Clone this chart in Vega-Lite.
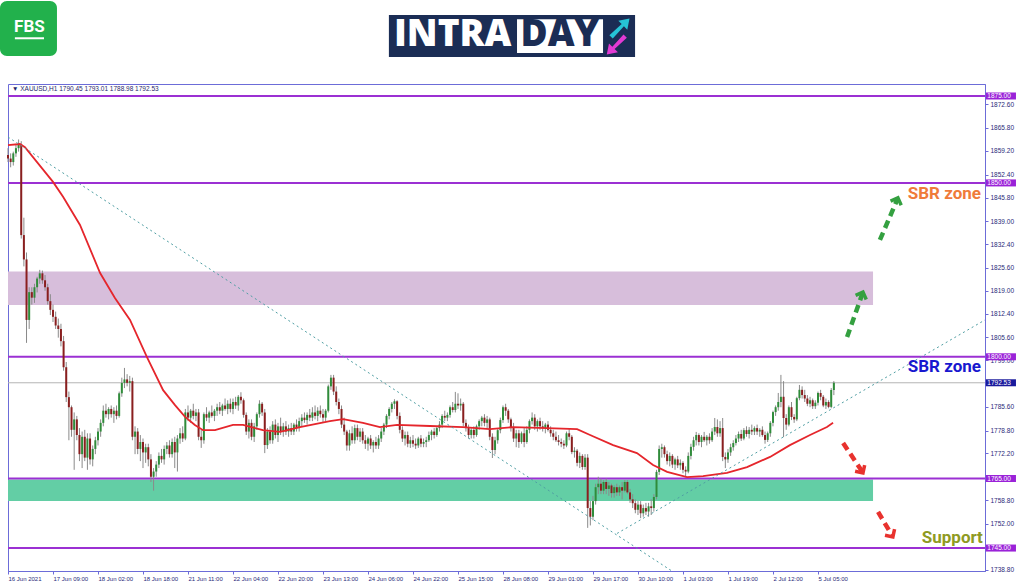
{
"$schema":"https://vega.github.io/schema/vega-lite/v6.json",
"width":977,"height":487,
"autosize":{"type":"none"},
"padding":{"left":8,"top":84,"right":39,"bottom":16},
"background":"white",
"config":{"view":{"stroke":"#6c6cd8","strokeWidth":1},"axis":{"grid":false}},
"resolve":{"axis":{"x":"independent","y":"independent"}},
"datasets":{
"zones":[{"z":"purple","x1":0,"x2":326.8,"p1":1814.9,"p2":1824.5},{"z":"green","x1":0,"x2":326.8,"p1":1758.5,"p2":1764.7}],
"levels":[{"p":1875},{"p":1850},{"p":1800},{"p":1765},{"p":1745}],
"current":[{"p":1792.53}],
"trend":[{"id":"a","i":0,"p":1863.2},{"id":"a","i":250.8,"p":1738.4},{"id":"b","i":230.1,"p":1749.2},{"id":"b","i":369.1,"p":1810.6}],
"ema":[{"i":0,"p":1860.9},{"i":4.5,"p":1861.2},{"i":6.4,"p":1860.3},{"i":17,"p":1850.3},{"i":20.8,"p":1846},{"i":27.2,"p":1837.9},{"i":34.8,"p":1824.1},{"i":40.4,"p":1816.9},{"i":46.1,"p":1810.6},{"i":52.5,"p":1799.9},{"i":58.6,"p":1790.4},{"i":63.1,"p":1786.1},{"i":66.9,"p":1782.7},{"i":70.6,"p":1780.4},{"i":73.7,"p":1778.9},{"i":78.2,"p":1778.9},{"i":85,"p":1780.4},{"i":88.8,"p":1780.4},{"i":96.3,"p":1778.9},{"i":102.8,"p":1778.4},{"i":110.3,"p":1779.8},{"i":121.6,"p":1781.5},{"i":126.6,"p":1782.1},{"i":134.1,"p":1781},{"i":140.5,"p":1779.8},{"i":147,"p":1780.4},{"i":159.4,"p":1780.1},{"i":171.9,"p":1779.8},{"i":182.1,"p":1779.2},{"i":190.8,"p":1779.8},{"i":203.6,"p":1779.5},{"i":215,"p":1779.2},{"i":219.9,"p":1777.5},{"i":228.6,"p":1774.6},{"i":237.6,"p":1772.3},{"i":243.7,"p":1768.9},{"i":249,"p":1766.9},{"i":256.5,"p":1765.4},{"i":262.6,"p":1765.7},{"i":271.6,"p":1766.6},{"i":279.2,"p":1768.3},{"i":287.9,"p":1771.2},{"i":295.4,"p":1774.6},{"i":303,"p":1777.5},{"i":309.4,"p":1779.8},{"i":311.7,"p":1781}],
"garrow":[{"id":"g1","i":317,"p":1805.7},{"id":"g1","i":322.8,"p":1818.2},{"id":"g2","i":329.4,"p":1833.6},{"id":"g2","i":336,"p":1845.3}],
"rarrow":[{"id":"r1","i":315.5,"p":1775.2},{"id":"r1","i":322.8,"p":1766.9},{"id":"r2","i":328.7,"p":1755.4},{"id":"r2","i":334,"p":1748.6}],
"ghead":[{"i":323,"p":1818.6},{"i":336.2,"p":1845.7}],
"rhead":[{"i":323,"p":1766.6},{"i":334.3,"p":1748.2}],
"notes":[{"t":"SBR zone","k":"o","i":367.6,"p":1846.8},{"t":"SBR zone","k":"b","i":367.6,"p":1797.1},{"t":"Support","k":"s","i":368.3,"p":1747.9}],
"boxes":[{"p":1875,"t":"1875.00","k":"lvl"},{"p":1850,"t":"1850.00","k":"lvl"},{"p":1800,"t":"1800.00","k":"lvl"},{"p":1765,"t":"1765.00","k":"lvl"},{"p":1745,"t":"1745.00","k":"lvl"},{"p":1792.53,"t":"1792.53","k":"cur"}],
"header":[{"t":"▼  XAUUSD,H1  1790.45 1793.01 1788.98 1792.53"}],
"fbs":[{"t":"FBS"}],
"intra":[{"t":"INTRA"}],
"day":[{"t":"DAY"}],
"candles":[
{"i":0,"o":1858,"h":1860,"l":1856,"c":1857},
{"i":1,"o":1857,"h":1858.5,"l":1854.5,"c":1856},
{"i":2,"o":1856,"h":1859,"l":1855,"c":1858.5},
{"i":3,"o":1858.5,"h":1861,"l":1857.5,"c":1860},
{"i":4,"o":1860,"h":1862.5,"l":1859,"c":1861},
{"i":5,"o":1861,"h":1862,"l":1834,"c":1835},
{"i":6,"o":1835,"h":1840,"l":1826,"c":1828},
{"i":7,"o":1828,"h":1830,"l":1804,"c":1810.6},
{"i":8,"o":1810.6,"h":1820,"l":1808,"c":1818.6},
{"i":9,"o":1818.6,"h":1820,"l":1815,"c":1817},
{"i":10,"o":1817,"h":1821,"l":1815.5,"c":1820},
{"i":11,"o":1820,"h":1823,"l":1818.5,"c":1822.5},
{"i":12,"o":1822.5,"h":1825,"l":1821,"c":1824},
{"i":13,"o":1824,"h":1824.8,"l":1821,"c":1822},
{"i":14,"o":1822,"h":1823.5,"l":1819,"c":1820},
{"i":15,"o":1820,"h":1821,"l":1815,"c":1816},
{"i":16,"o":1816,"h":1818,"l":1812,"c":1813.5},
{"i":17,"o":1813.5,"h":1815,"l":1810,"c":1811.5},
{"i":18,"o":1811.5,"h":1813,"l":1808,"c":1809},
{"i":19,"o":1809,"h":1811,"l":1805.5,"c":1808},
{"i":20,"o":1808,"h":1809.5,"l":1803,"c":1804.5},
{"i":21,"o":1804.5,"h":1806,"l":1796,"c":1797},
{"i":22,"o":1797,"h":1798.5,"l":1787,"c":1788.4},
{"i":23,"o":1788.4,"h":1790,"l":1776,"c":1785.5},
{"i":24,"o":1785.5,"h":1786,"l":1777,"c":1779},
{"i":25,"o":1779,"h":1784,"l":1767.5,"c":1782},
{"i":26,"o":1782,"h":1783,"l":1776,"c":1777.5},
{"i":27,"o":1777.5,"h":1779.5,"l":1770,"c":1772},
{"i":28,"o":1772,"h":1778.5,"l":1768,"c":1777},
{"i":29,"o":1777,"h":1779,"l":1770,"c":1771},
{"i":30,"o":1771,"h":1778,"l":1767.5,"c":1776.5},
{"i":31,"o":1776.5,"h":1778,"l":1769,"c":1770.5},
{"i":32,"o":1770.5,"h":1774.5,"l":1768.5,"c":1773.5},
{"i":33,"o":1773.5,"h":1777,"l":1772,"c":1776},
{"i":34,"o":1776,"h":1779.5,"l":1774.5,"c":1778.5},
{"i":35,"o":1778.5,"h":1782,"l":1777,"c":1781},
{"i":36,"o":1781,"h":1786,"l":1780,"c":1784.5},
{"i":37,"o":1784.5,"h":1786.5,"l":1782.5,"c":1783.5},
{"i":38,"o":1783.5,"h":1785.5,"l":1782,"c":1785},
{"i":39,"o":1785,"h":1786,"l":1782.5,"c":1783.5},
{"i":40,"o":1783.5,"h":1785.5,"l":1781,"c":1784.5},
{"i":41,"o":1784.5,"h":1786,"l":1782,"c":1783},
{"i":42,"o":1783,"h":1790,"l":1782.5,"c":1789.5},
{"i":43,"o":1789.5,"h":1794,"l":1788.5,"c":1792.5},
{"i":44,"o":1792.5,"h":1796.8,"l":1791,"c":1793.5},
{"i":45,"o":1793.5,"h":1795,"l":1791.5,"c":1792.5},
{"i":46,"o":1792.5,"h":1794.5,"l":1790,"c":1793},
{"i":47,"o":1793,"h":1794,"l":1776,"c":1777},
{"i":48,"o":1777,"h":1780,"l":1772,"c":1778.5},
{"i":49,"o":1778.5,"h":1779.5,"l":1772,"c":1773.5},
{"i":50,"o":1773.5,"h":1777.5,"l":1770,"c":1775.5},
{"i":51,"o":1775.5,"h":1776.5,"l":1768,"c":1772.5},
{"i":52,"o":1772.5,"h":1775,"l":1769.5,"c":1774},
{"i":53,"o":1774,"h":1775,"l":1768.5,"c":1770.5},
{"i":54,"o":1770.5,"h":1772,"l":1764,"c":1765.5},
{"i":55,"o":1765.5,"h":1768,"l":1761.5,"c":1767},
{"i":56,"o":1767,"h":1770,"l":1765.5,"c":1769},
{"i":57,"o":1769,"h":1772.5,"l":1768,"c":1771.5},
{"i":58,"o":1771.5,"h":1773.5,"l":1769.5,"c":1770.5},
{"i":59,"o":1770.5,"h":1774.5,"l":1769,"c":1773.5},
{"i":60,"o":1773.5,"h":1775.5,"l":1772,"c":1774.5},
{"i":61,"o":1774.5,"h":1776,"l":1771,"c":1772},
{"i":62,"o":1772,"h":1776.5,"l":1771,"c":1775.5},
{"i":63,"o":1775.5,"h":1777,"l":1768,"c":1772.5},
{"i":64,"o":1772.5,"h":1777.5,"l":1767,"c":1776.5},
{"i":65,"o":1776.5,"h":1779.5,"l":1775,"c":1778},
{"i":66,"o":1778,"h":1780,"l":1775.5,"c":1776.5},
{"i":67,"o":1776.5,"h":1785,"l":1776,"c":1784},
{"i":68,"o":1784,"h":1786,"l":1781.5,"c":1782.5},
{"i":69,"o":1782.5,"h":1785,"l":1781,"c":1784.5},
{"i":70,"o":1784.5,"h":1786.5,"l":1782,"c":1783},
{"i":71,"o":1783,"h":1785,"l":1781.5,"c":1784},
{"i":72,"o":1784,"h":1785,"l":1776,"c":1777},
{"i":73,"o":1777,"h":1779,"l":1773.8,"c":1776},
{"i":74,"o":1776,"h":1784,"l":1775,"c":1783.5},
{"i":75,"o":1783.5,"h":1785.5,"l":1781.5,"c":1782.5},
{"i":76,"o":1782.5,"h":1784.5,"l":1781,"c":1784},
{"i":77,"o":1784,"h":1786,"l":1782.5,"c":1783},
{"i":78,"o":1783,"h":1785,"l":1781.5,"c":1784.5},
{"i":79,"o":1784.5,"h":1786.5,"l":1783,"c":1785.5},
{"i":80,"o":1785.5,"h":1787,"l":1783.5,"c":1784.5},
{"i":81,"o":1784.5,"h":1786.5,"l":1783,"c":1786},
{"i":82,"o":1786,"h":1788,"l":1784.5,"c":1785},
{"i":83,"o":1785,"h":1787.5,"l":1783.5,"c":1786.5},
{"i":84,"o":1786.5,"h":1788,"l":1784,"c":1785},
{"i":85,"o":1785,"h":1788,"l":1783.5,"c":1787},
{"i":86,"o":1787,"h":1788.5,"l":1785,"c":1786},
{"i":87,"o":1786,"h":1789,"l":1784.5,"c":1788.5},
{"i":88,"o":1788.5,"h":1789.8,"l":1786.5,"c":1787.5},
{"i":89,"o":1787.5,"h":1788,"l":1782.5,"c":1783.3},
{"i":90,"o":1783.3,"h":1784,"l":1777.5,"c":1778.5},
{"i":91,"o":1778.5,"h":1782,"l":1776.5,"c":1781},
{"i":92,"o":1781,"h":1782,"l":1776,"c":1777},
{"i":93,"o":1777,"h":1781,"l":1775.5,"c":1780},
{"i":94,"o":1780,"h":1784,"l":1779,"c":1783.5},
{"i":95,"o":1783.5,"h":1787.5,"l":1782.5,"c":1786.5},
{"i":96,"o":1786.5,"h":1787,"l":1783,"c":1784},
{"i":97,"o":1784,"h":1785,"l":1772.3,"c":1774.6},
{"i":98,"o":1774.6,"h":1779.5,"l":1773.5,"c":1778.5},
{"i":99,"o":1778.5,"h":1780,"l":1775,"c":1776},
{"i":100,"o":1776,"h":1781.5,"l":1775,"c":1780.5},
{"i":101,"o":1780.5,"h":1782,"l":1776.5,"c":1777.5},
{"i":102,"o":1777.5,"h":1781,"l":1775.5,"c":1780},
{"i":103,"o":1780,"h":1782.5,"l":1777.5,"c":1778.5},
{"i":104,"o":1778.5,"h":1781,"l":1777,"c":1780},
{"i":105,"o":1780,"h":1781.5,"l":1777.5,"c":1778.5},
{"i":106,"o":1778.5,"h":1780.5,"l":1777,"c":1779.5},
{"i":107,"o":1779.5,"h":1781,"l":1777.5,"c":1778.5},
{"i":108,"o":1778.5,"h":1781,"l":1777.5,"c":1780.5},
{"i":109,"o":1780.5,"h":1782,"l":1778.5,"c":1779.5},
{"i":110,"o":1779.5,"h":1782.5,"l":1778.5,"c":1781.5},
{"i":111,"o":1781.5,"h":1783.5,"l":1780,"c":1782.5},
{"i":112,"o":1782.5,"h":1784,"l":1781,"c":1781.8},
{"i":113,"o":1781.8,"h":1784,"l":1780.5,"c":1783.3},
{"i":114,"o":1783.3,"h":1785,"l":1781.5,"c":1782.5},
{"i":115,"o":1782.5,"h":1785.5,"l":1781.5,"c":1784},
{"i":116,"o":1784,"h":1786,"l":1782,"c":1783},
{"i":117,"o":1783,"h":1785.5,"l":1781.5,"c":1784.5},
{"i":118,"o":1784.5,"h":1786,"l":1782.5,"c":1783.5},
{"i":119,"o":1783.5,"h":1785,"l":1781,"c":1782.5},
{"i":120,"o":1782.5,"h":1785,"l":1781.5,"c":1784.5},
{"i":121,"o":1784.5,"h":1792,"l":1784,"c":1791.5},
{"i":122,"o":1791.5,"h":1794.8,"l":1790.5,"c":1794},
{"i":123,"o":1794,"h":1794.8,"l":1789,"c":1790},
{"i":124,"o":1790,"h":1791.5,"l":1786,"c":1787},
{"i":125,"o":1787,"h":1788,"l":1783.5,"c":1785},
{"i":126,"o":1785,"h":1786,"l":1779.5,"c":1780.5},
{"i":127,"o":1780.5,"h":1782.5,"l":1777.5,"c":1778.5},
{"i":128,"o":1778.5,"h":1779,"l":1773,"c":1774.5},
{"i":129,"o":1774.5,"h":1779,"l":1773,"c":1778},
{"i":130,"o":1778,"h":1780,"l":1775,"c":1776},
{"i":131,"o":1776,"h":1780.5,"l":1775,"c":1779.5},
{"i":132,"o":1779.5,"h":1780.5,"l":1776,"c":1777},
{"i":133,"o":1777,"h":1779.5,"l":1775.5,"c":1778.5},
{"i":134,"o":1778.5,"h":1779.5,"l":1775,"c":1776},
{"i":135,"o":1776,"h":1777.5,"l":1773.5,"c":1775},
{"i":136,"o":1775,"h":1777,"l":1773,"c":1776.5},
{"i":137,"o":1776.5,"h":1777.5,"l":1773.5,"c":1774.5},
{"i":138,"o":1774.5,"h":1776,"l":1772.5,"c":1775.5},
{"i":139,"o":1775.5,"h":1777,"l":1773.5,"c":1774.5},
{"i":140,"o":1774.5,"h":1777.5,"l":1773.5,"c":1776.5},
{"i":141,"o":1776.5,"h":1779.5,"l":1775.5,"c":1778.5},
{"i":142,"o":1778.5,"h":1781,"l":1777.5,"c":1780.5},
{"i":143,"o":1780.5,"h":1783.5,"l":1779.5,"c":1783},
{"i":144,"o":1783,"h":1785.5,"l":1782,"c":1785},
{"i":145,"o":1785,"h":1787,"l":1784,"c":1786.5},
{"i":146,"o":1786.5,"h":1787.8,"l":1785,"c":1787.2},
{"i":147,"o":1787.2,"h":1787.5,"l":1782,"c":1783},
{"i":148,"o":1783,"h":1784,"l":1778,"c":1779},
{"i":149,"o":1779,"h":1780,"l":1775.5,"c":1776.5},
{"i":150,"o":1776.5,"h":1778.5,"l":1774.5,"c":1777.5},
{"i":151,"o":1777.5,"h":1778.5,"l":1774,"c":1775},
{"i":152,"o":1775,"h":1777,"l":1773.8,"c":1776},
{"i":153,"o":1776,"h":1777.5,"l":1774,"c":1775},
{"i":154,"o":1775,"h":1776.5,"l":1773.5,"c":1774.5},
{"i":155,"o":1774.5,"h":1777,"l":1773.8,"c":1776.5},
{"i":156,"o":1776.5,"h":1777.5,"l":1774,"c":1775},
{"i":157,"o":1775,"h":1776.5,"l":1774,"c":1775.5},
{"i":158,"o":1775.5,"h":1777,"l":1774,"c":1776},
{"i":159,"o":1776,"h":1778.5,"l":1775.5,"c":1777.5},
{"i":160,"o":1777.5,"h":1779,"l":1776,"c":1778.5},
{"i":161,"o":1778.5,"h":1779.5,"l":1776.5,"c":1777.5},
{"i":162,"o":1777.5,"h":1780,"l":1777,"c":1779.5},
{"i":163,"o":1779.5,"h":1781.5,"l":1778.5,"c":1780.5},
{"i":164,"o":1780.5,"h":1783.5,"l":1779.5,"c":1783},
{"i":165,"o":1783,"h":1784.5,"l":1781.5,"c":1782.5},
{"i":166,"o":1782.5,"h":1784,"l":1781.5,"c":1783.3},
{"i":167,"o":1783.3,"h":1786,"l":1782.5,"c":1785.5},
{"i":168,"o":1785.5,"h":1787,"l":1784,"c":1784.7},
{"i":169,"o":1784.7,"h":1789.9,"l":1784,"c":1786.5},
{"i":170,"o":1786.5,"h":1789.5,"l":1785,"c":1786},
{"i":171,"o":1786,"h":1788,"l":1784.5,"c":1786.5},
{"i":172,"o":1786.5,"h":1787,"l":1780,"c":1781},
{"i":173,"o":1781,"h":1782,"l":1778.5,"c":1779.5},
{"i":174,"o":1779.5,"h":1780.5,"l":1776.5,"c":1777.5},
{"i":175,"o":1777.5,"h":1779.5,"l":1776.5,"c":1779},
{"i":176,"o":1779,"h":1780,"l":1776.5,"c":1777.5},
{"i":177,"o":1777.5,"h":1780.5,"l":1777,"c":1780},
{"i":178,"o":1780,"h":1782,"l":1779,"c":1781.5},
{"i":179,"o":1781.5,"h":1783,"l":1780,"c":1782.5},
{"i":180,"o":1782.5,"h":1783.5,"l":1780,"c":1781},
{"i":181,"o":1781,"h":1783,"l":1779.5,"c":1782},
{"i":182,"o":1782,"h":1782.5,"l":1776,"c":1777},
{"i":183,"o":1777,"h":1778,"l":1770.9,"c":1773.2},
{"i":184,"o":1773.2,"h":1777,"l":1772,"c":1776},
{"i":185,"o":1776,"h":1779.5,"l":1775,"c":1778.9},
{"i":186,"o":1778.9,"h":1782.5,"l":1778,"c":1781.8},
{"i":187,"o":1781.8,"h":1786,"l":1781,"c":1785.5},
{"i":188,"o":1785.5,"h":1786.5,"l":1783,"c":1784.5},
{"i":189,"o":1784.5,"h":1785,"l":1781,"c":1782},
{"i":190,"o":1782,"h":1782.5,"l":1778.5,"c":1779.5},
{"i":191,"o":1779.5,"h":1781,"l":1775.5,"c":1776.5},
{"i":192,"o":1776.5,"h":1779,"l":1774,"c":1778},
{"i":193,"o":1778,"h":1779,"l":1773.8,"c":1775.5},
{"i":194,"o":1775.5,"h":1778.5,"l":1775,"c":1778},
{"i":195,"o":1778,"h":1779.5,"l":1774,"c":1775.5},
{"i":196,"o":1775.5,"h":1780,"l":1775,"c":1779},
{"i":197,"o":1779,"h":1782,"l":1778,"c":1781.5},
{"i":198,"o":1781.5,"h":1784,"l":1780.5,"c":1782.5},
{"i":199,"o":1782.5,"h":1783.5,"l":1779,"c":1780},
{"i":200,"o":1780,"h":1782,"l":1778.5,"c":1781.5},
{"i":201,"o":1781.5,"h":1782.5,"l":1779,"c":1780},
{"i":202,"o":1780,"h":1781.5,"l":1778.5,"c":1779.5},
{"i":203,"o":1779.5,"h":1781,"l":1778,"c":1780.5},
{"i":204,"o":1780.5,"h":1781.5,"l":1778.5,"c":1779},
{"i":205,"o":1779,"h":1780,"l":1777,"c":1778},
{"i":206,"o":1778,"h":1779,"l":1776,"c":1777},
{"i":207,"o":1777,"h":1778.5,"l":1775.5,"c":1776},
{"i":208,"o":1776,"h":1777.5,"l":1774.5,"c":1775.5},
{"i":209,"o":1775.5,"h":1776.5,"l":1774,"c":1775},
{"i":210,"o":1775,"h":1776,"l":1773.5,"c":1774.5},
{"i":211,"o":1774.5,"h":1778.5,"l":1774,"c":1778},
{"i":212,"o":1778,"h":1779.2,"l":1776,"c":1777},
{"i":213,"o":1777,"h":1777.5,"l":1772,"c":1772.6},
{"i":214,"o":1772.6,"h":1774,"l":1771,"c":1773},
{"i":215,"o":1773,"h":1773.5,"l":1768.5,"c":1769.5},
{"i":216,"o":1769.5,"h":1772.5,"l":1768,"c":1771.5},
{"i":217,"o":1771.5,"h":1772,"l":1767.5,"c":1768.3},
{"i":218,"o":1768.3,"h":1772,"l":1767.5,"c":1771},
{"i":219,"o":1771,"h":1772,"l":1750.8,"c":1756.5},
{"i":220,"o":1756.5,"h":1758.5,"l":1751.5,"c":1754},
{"i":221,"o":1754,"h":1760,"l":1753,"c":1758.5},
{"i":222,"o":1758.5,"h":1763.5,"l":1757.5,"c":1762.5},
{"i":223,"o":1762.5,"h":1765.5,"l":1760.5,"c":1763.5},
{"i":224,"o":1763.5,"h":1765,"l":1760.5,"c":1761.5},
{"i":225,"o":1761.5,"h":1764.5,"l":1760.5,"c":1764},
{"i":226,"o":1764,"h":1765,"l":1760.5,"c":1762},
{"i":227,"o":1762,"h":1764,"l":1760,"c":1763},
{"i":228,"o":1763,"h":1763.5,"l":1759.5,"c":1760.8},
{"i":229,"o":1760.8,"h":1763,"l":1759.5,"c":1762.5},
{"i":230,"o":1762.5,"h":1763.5,"l":1760,"c":1761},
{"i":231,"o":1761,"h":1763,"l":1760,"c":1762.5},
{"i":232,"o":1762.5,"h":1764,"l":1759,"c":1761.5},
{"i":233,"o":1761.5,"h":1764.5,"l":1761,"c":1764},
{"i":234,"o":1764,"h":1764.5,"l":1760.5,"c":1761},
{"i":235,"o":1761,"h":1762,"l":1758,"c":1759},
{"i":236,"o":1759,"h":1760.5,"l":1756.5,"c":1757.9},
{"i":237,"o":1757.9,"h":1759,"l":1755,"c":1756},
{"i":238,"o":1756,"h":1758.5,"l":1754.5,"c":1757.5},
{"i":239,"o":1757.5,"h":1758.5,"l":1753.6,"c":1755},
{"i":240,"o":1755,"h":1757.5,"l":1754,"c":1756.5},
{"i":241,"o":1756.5,"h":1758,"l":1754.5,"c":1755.5},
{"i":242,"o":1755.5,"h":1758,"l":1754,"c":1757},
{"i":243,"o":1757,"h":1759,"l":1754.5,"c":1756.5},
{"i":244,"o":1756.5,"h":1760.5,"l":1755.5,"c":1759.7},
{"i":245,"o":1759.7,"h":1767.5,"l":1759,"c":1766.9},
{"i":246,"o":1766.9,"h":1774.5,"l":1766,"c":1773.5},
{"i":247,"o":1773.5,"h":1775,"l":1771,"c":1774},
{"i":248,"o":1774,"h":1774.5,"l":1771,"c":1772},
{"i":249,"o":1772,"h":1773,"l":1769,"c":1770},
{"i":250,"o":1770,"h":1772.5,"l":1768.5,"c":1771.5},
{"i":251,"o":1771.5,"h":1772,"l":1768,"c":1769},
{"i":252,"o":1769,"h":1771,"l":1767.5,"c":1770.5},
{"i":253,"o":1770.5,"h":1771.5,"l":1768,"c":1768.8},
{"i":254,"o":1768.8,"h":1770.5,"l":1767.5,"c":1769.5},
{"i":255,"o":1769.5,"h":1770,"l":1766.5,"c":1767.5},
{"i":256,"o":1767.5,"h":1768.5,"l":1765.4,"c":1767},
{"i":257,"o":1767,"h":1772.5,"l":1766.5,"c":1771.5},
{"i":258,"o":1771.5,"h":1775,"l":1770.5,"c":1774.1},
{"i":259,"o":1774.1,"h":1777,"l":1773,"c":1776},
{"i":260,"o":1776,"h":1778.4,"l":1774.5,"c":1777.5},
{"i":261,"o":1777.5,"h":1778,"l":1774.5,"c":1775.5},
{"i":262,"o":1775.5,"h":1777.5,"l":1774,"c":1777},
{"i":263,"o":1777,"h":1778.4,"l":1775.5,"c":1776},
{"i":264,"o":1776,"h":1777.5,"l":1774.5,"c":1777},
{"i":265,"o":1777,"h":1778,"l":1775,"c":1776},
{"i":266,"o":1776,"h":1779.5,"l":1775.5,"c":1778.5},
{"i":267,"o":1778.5,"h":1782.4,"l":1777.5,"c":1779.8},
{"i":268,"o":1779.8,"h":1782,"l":1777,"c":1778},
{"i":269,"o":1778,"h":1781.5,"l":1777,"c":1779.5},
{"i":270,"o":1779.5,"h":1782.4,"l":1770,"c":1771.2},
{"i":271,"o":1771.2,"h":1772.5,"l":1768,"c":1770.5},
{"i":272,"o":1770.5,"h":1773.5,"l":1769.5,"c":1772.5},
{"i":273,"o":1772.5,"h":1775,"l":1771.5,"c":1774},
{"i":274,"o":1774,"h":1776,"l":1773,"c":1775.2},
{"i":275,"o":1775.2,"h":1777.5,"l":1774.5,"c":1776.5},
{"i":276,"o":1776.5,"h":1778.5,"l":1775.5,"c":1777.8},
{"i":277,"o":1777.8,"h":1779,"l":1775.8,"c":1776.5},
{"i":278,"o":1776.5,"h":1779.5,"l":1776,"c":1778.9},
{"i":279,"o":1778.9,"h":1780,"l":1777,"c":1777.8},
{"i":280,"o":1777.8,"h":1779.8,"l":1776.5,"c":1779},
{"i":281,"o":1779,"h":1780.5,"l":1777.5,"c":1778.5},
{"i":282,"o":1778.5,"h":1780,"l":1777.5,"c":1779.5},
{"i":283,"o":1779.5,"h":1780.5,"l":1777.5,"c":1778.5},
{"i":284,"o":1778.5,"h":1779.5,"l":1777,"c":1779},
{"i":285,"o":1779,"h":1780,"l":1777,"c":1777.5},
{"i":286,"o":1777.5,"h":1778.5,"l":1775,"c":1776.1},
{"i":287,"o":1776.1,"h":1778.5,"l":1775.5,"c":1778},
{"i":288,"o":1778,"h":1781.5,"l":1777,"c":1781},
{"i":289,"o":1781,"h":1784.5,"l":1780,"c":1784.1},
{"i":290,"o":1784.1,"h":1786,"l":1783,"c":1785.5},
{"i":291,"o":1785.5,"h":1789.6,"l":1784.5,"c":1787},
{"i":292,"o":1787,"h":1794.8,"l":1785.5,"c":1788.5},
{"i":293,"o":1788.5,"h":1793,"l":1776.9,"c":1782.4},
{"i":294,"o":1782.4,"h":1783.5,"l":1779,"c":1780.5},
{"i":295,"o":1780.5,"h":1786,"l":1780,"c":1785.5},
{"i":296,"o":1785.5,"h":1787,"l":1781.8,"c":1782.7},
{"i":297,"o":1782.7,"h":1783.5,"l":1781,"c":1782},
{"i":298,"o":1782,"h":1788.5,"l":1781.5,"c":1788.1},
{"i":299,"o":1788.1,"h":1791.9,"l":1787.5,"c":1790.5},
{"i":300,"o":1790.5,"h":1791.5,"l":1788,"c":1789},
{"i":301,"o":1789,"h":1790.5,"l":1787,"c":1788},
{"i":302,"o":1788,"h":1789,"l":1785.8,"c":1786.5},
{"i":303,"o":1786.5,"h":1788.5,"l":1785.5,"c":1787.5},
{"i":304,"o":1787.5,"h":1788,"l":1785,"c":1785.8},
{"i":305,"o":1785.8,"h":1787.5,"l":1785,"c":1786.8},
{"i":306,"o":1786.8,"h":1790,"l":1786,"c":1789.6},
{"i":307,"o":1789.6,"h":1790.5,"l":1787.5,"c":1788.5},
{"i":308,"o":1788.5,"h":1789,"l":1785.5,"c":1786},
{"i":309,"o":1786,"h":1788,"l":1785,"c":1787},
{"i":310,"o":1787,"h":1787.5,"l":1785.2,"c":1785.6},
{"i":311,"o":1785.6,"h":1791,"l":1785.2,"c":1790.45},
{"i":312,"o":1790.45,"h":1793.01,"l":1788.98,"c":1792.53}
]
},
"layer":[
{"data":{"name":"zones"},"mark":{"type":"rect"},
 "encoding":{
  "x":{"field":"x1","type":"quantitative","scale":{"domain":[0,369.1],"nice":false,"zero":false,"padding":0},
   "axis":{"orient":"bottom","title":null,"values":[0,17,34,51,68,85,102,119,136,153,170,187,204,221,238,255,272,289,306],
    "labelExpr":"['16 Jun 2021','17 Jun 09:00','18 Jun 02:00','18 Jun 18:00','21 Jun 11:00','22 Jun 04:00','22 Jun 20:00','23 Jun 13:00','24 Jun 06:00','24 Jun 22:00','25 Jun 15:00','28 Jun 08:00','29 Jun 01:00','29 Jun 17:00','30 Jun 10:00','1 Jul 03:00','1 Jul 19:00','2 Jul 12:00','5 Jul 05:00'][round(datum.value/17)]",
    "labelAlign":"left","labelPadding":1,"tickSize":3,"domainColor":"#6c6cd8","tickColor":"#6c6cd8","labelColor":"#2a2a7a","labelFont":"Liberation Sans","labelFontSize":6,"labelOverlap":false,"labelFlush":false,"labelBound":false,"grid":false}},
  "x2":{"field":"x2"},
  "y":{"field":"p1","type":"quantitative","scale":{"domain":[1738.4,1878.45],"nice":false,"zero":false,"padding":0},
   "axis":{"orient":"right","title":null,"values":[1872.6,1865.8,1859.2,1852.4,1845.8,1839,1832.4,1825.6,1819,1812.4,1805.6,1799,1785.6,1778.8,1772.2,1758.8,1752,1738.8],
    "format":".2f","tickSize":3,"labelPadding":2,"domainColor":"#6c6cd8","tickColor":"#6c6cd8","labelColor":"#2a2a7a","labelFont":"Liberation Sans","labelFontSize":6.5,"labelOverlap":false,"labelFlush":false,"labelBound":false,"grid":false}},
  "y2":{"field":"p2"},
  "fill":{"condition":{"test":"datum.z=='purple'","value":"#d7bedb"},"value":"#63cea5"}
 }},
{"data":{"name":"levels"},"mark":{"type":"rule","color":"#9b30d3","strokeWidth":2},
 "encoding":{"y":{"field":"p","type":"quantitative","scale":{"domain":[1738.4,1878.45],"nice":false,"zero":false,"padding":0},"axis":null}}},
{"data":{"name":"current"},"mark":{"type":"rule","color":"#b4b4b4","strokeWidth":1},
 "encoding":{"y":{"field":"p","type":"quantitative","scale":{"domain":[1738.4,1878.45],"nice":false,"zero":false,"padding":0},"axis":null}}},
{"data":{"name":"candles"},"mark":{"type":"rule","color":"#8a8a8a","strokeWidth":1},
 "encoding":{
  "x":{"field":"i","type":"quantitative","scale":{"domain":[0,369.1],"nice":false,"zero":false,"padding":0},"axis":null},
  "y":{"field":"l","type":"quantitative","scale":{"domain":[1738.4,1878.45],"nice":false,"zero":false,"padding":0},"axis":null},
  "y2":{"field":"h"}}},
{"data":{"name":"candles"},"mark":{"type":"bar","size":2},
 "encoding":{
  "x":{"field":"i","type":"quantitative","scale":{"domain":[0,369.1],"nice":false,"zero":false,"padding":0},"axis":null},
  "y":{"field":"o","type":"quantitative","scale":{"domain":[1738.4,1878.45],"nice":false,"zero":false,"padding":0},"axis":null},
  "y2":{"field":"c"},
  "fill":{"condition":{"test":"datum.c>=datum.o","value":"#2f8c3a"},"value":"#8a1f1f"}}},
{"data":{"name":"ema"},"mark":{"type":"line","color":"#e5262c","strokeWidth":1.8},
 "encoding":{
  "x":{"field":"i","type":"quantitative","scale":{"domain":[0,369.1],"nice":false,"zero":false,"padding":0},"axis":null},
  "y":{"field":"p","type":"quantitative","scale":{"domain":[1738.4,1878.45],"nice":false,"zero":false,"padding":0},"axis":null}}},
{"data":{"name":"trend"},"mark":{"type":"line","color":"#4f9ea3","strokeWidth":1,"strokeDash":[2,3]},
 "encoding":{
  "x":{"field":"i","type":"quantitative","scale":{"domain":[0,369.1],"nice":false,"zero":false,"padding":0},"axis":null},
  "y":{"field":"p","type":"quantitative","scale":{"domain":[1738.4,1878.45],"nice":false,"zero":false,"padding":0},"axis":null},
  "detail":{"field":"id"}}},
{"data":{"name":"garrow"},"mark":{"type":"line","color":"#34a040","strokeWidth":4.5,"strokeDash":[8,5],"strokeCap":"butt"},
 "encoding":{
  "x":{"field":"i","type":"quantitative","scale":{"domain":[0,369.1],"nice":false,"zero":false,"padding":0},"axis":null},
  "y":{"field":"p","type":"quantitative","scale":{"domain":[1738.4,1878.45],"nice":false,"zero":false,"padding":0},"axis":null},
  "detail":{"field":"id"}}},
{"data":{"name":"rarrow"},"mark":{"type":"line","color":"#e8322e","strokeWidth":4.5,"strokeDash":[8,5],"strokeCap":"butt"},
 "encoding":{
  "x":{"field":"i","type":"quantitative","scale":{"domain":[0,369.1],"nice":false,"zero":false,"padding":0},"axis":null},
  "y":{"field":"p","type":"quantitative","scale":{"domain":[1738.4,1878.45],"nice":false,"zero":false,"padding":0},"axis":null},
  "detail":{"field":"id"}}},
{"data":{"name":"ghead"},"mark":{"type":"point","shape":"M-1,1L0,0L1,1","filled":false,"stroke":"#34a040","strokeWidth":3.5,"size":130,"angle":21,"opacity":1},
 "encoding":{
  "x":{"field":"i","type":"quantitative","scale":{"domain":[0,369.1],"nice":false,"zero":false,"padding":0},"axis":null},
  "y":{"field":"p","type":"quantitative","scale":{"domain":[1738.4,1878.45],"nice":false,"zero":false,"padding":0},"axis":null}}},
{"data":{"name":"rhead"},"mark":{"type":"point","shape":"M-1,1L0,0L1,1","filled":false,"stroke":"#e8322e","strokeWidth":3.5,"size":130,"angle":147,"opacity":1},
 "encoding":{
  "x":{"field":"i","type":"quantitative","scale":{"domain":[0,369.1],"nice":false,"zero":false,"padding":0},"axis":null},
  "y":{"field":"p","type":"quantitative","scale":{"domain":[1738.4,1878.45],"nice":false,"zero":false,"padding":0},"axis":null}}},
{"data":{"name":"notes"},"mark":{"type":"text","font":"Roboto","fontWeight":"bold","fontSize":17,"align":"right","baseline":"middle"},
 "encoding":{
  "x":{"field":"i","type":"quantitative","scale":{"domain":[0,369.1],"nice":false,"zero":false,"padding":0},"axis":null},
  "y":{"field":"p","type":"quantitative","scale":{"domain":[1738.4,1878.45],"nice":false,"zero":false,"padding":0},"axis":null},
  "text":{"field":"t"},
  "color":{"condition":[{"test":"datum.k=='o'","value":"#ef7b3a"},{"test":"datum.k=='b'","value":"#1818cf"}],"value":"#8f9a22"}}},
{"data":{"name":"boxes"},"mark":{"type":"rule","strokeWidth":7,"strokeCap":"butt"},
 "encoding":{
  "x":{"datum":369.4,"type":"quantitative","scale":{"domain":[0,369.1],"nice":false,"zero":false,"padding":0},"axis":null},
  "x2":{"datum":380.8},
  "y":{"field":"p","type":"quantitative","scale":{"domain":[1738.4,1878.45],"nice":false,"zero":false,"padding":0},"axis":null},
  "color":{"condition":{"test":"datum.k=='cur'","value":"#1a1a9c"},"value":"#9a22d8"}}},
{"data":{"name":"boxes"},"mark":{"type":"text","color":"white","font":"Liberation Sans","fontSize":6.5,"align":"left","baseline":"middle","dx":1},
 "encoding":{
  "x":{"datum":369.6,"type":"quantitative","scale":{"domain":[0,369.1],"nice":false,"zero":false,"padding":0},"axis":null},
  "y":{"field":"p","type":"quantitative","scale":{"domain":[1738.4,1878.45],"nice":false,"zero":false,"padding":0},"axis":null},
  "text":{"field":"t"}}},
{"data":{"name":"header"},"mark":{"type":"text","color":"#1f1f6b","font":"Liberation Sans","fontSize":6.5,"align":"left","baseline":"middle"},
 "encoding":{
  "x":{"datum":1.5,"type":"quantitative","scale":{"domain":[0,369.1],"nice":false,"zero":false,"padding":0},"axis":null},
  "y":{"datum":1877.0,"type":"quantitative","scale":{"domain":[1738.4,1878.45],"nice":false,"zero":false,"padding":0},"axis":null},
  "text":{"field":"t"}}},
{"data":{"name":"fbs"},"mark":{"type":"rect","fill":"#22b14c","cornerRadius":7},
 "encoding":{
  "x":{"datum":-3.02,"type":"quantitative","scale":{"domain":[0,369.1],"nice":false,"zero":false,"padding":0},"axis":null},
  "x2":{"datum":18.5},
  "y":{"datum":1902.3,"type":"quantitative","scale":{"domain":[1738.4,1878.45],"nice":false,"zero":false,"padding":0},"axis":null},
  "y2":{"datum":1886.5}}},
{"data":{"name":"fbs"},"mark":{"type":"text","color":"white","font":"Roboto","fontWeight":"bold","fontSize":17,"align":"center","baseline":"middle"},
 "encoding":{
  "x":{"datum":8.1,"type":"quantitative","scale":{"domain":[0,369.1],"nice":false,"zero":false,"padding":0},"axis":null},
  "y":{"datum":1894.9,"type":"quantitative","scale":{"domain":[1738.4,1878.45],"nice":false,"zero":false,"padding":0},"axis":null},
  "text":{"field":"t"}}},
{"data":{"name":"fbs"},"mark":{"type":"rule","color":"white","strokeWidth":2},
 "encoding":{
  "x":{"datum":2.6,"type":"quantitative","scale":{"domain":[0,369.1],"nice":false,"zero":false,"padding":0},"axis":null},
  "x2":{"datum":13.6},
  "y":{"datum":1891.6,"type":"quantitative","scale":{"domain":[1738.4,1878.45],"nice":false,"zero":false,"padding":0},"axis":null}}},
{"data":{"name":"intra"},"mark":{"type":"rect","fill":"#1b2d55"},
 "encoding":{
  "x":{"datum":143.9,"type":"quantitative","scale":{"domain":[0,369.1],"nice":false,"zero":false,"padding":0},"axis":null},
  "x2":{"datum":236.9},
  "y":{"datum":1898.3,"type":"quantitative","scale":{"domain":[1738.4,1878.45],"nice":false,"zero":false,"padding":0},"axis":null},
  "y2":{"datum":1886.2}}},
{"data":{"name":"day"},"mark":{"type":"rect","fill":"white"},
 "encoding":{
  "x":{"datum":192.3,"type":"quantitative","scale":{"domain":[0,369.1],"nice":false,"zero":false,"padding":0},"axis":null},
  "x2":{"datum":224.8},
  "y":{"datum":1897.1,"type":"quantitative","scale":{"domain":[1738.4,1878.45],"nice":false,"zero":false,"padding":0},"axis":null},
  "y2":{"datum":1887.4}}},
{"data":{"name":"intra"},"mark":{"type":"text","color":"white","font":"Open Sans","fontWeight":800,"fontSize":37,"align":"left","baseline":"middle"},
 "encoding":{
  "x":{"datum":145.8,"type":"quantitative","scale":{"domain":[0,369.1],"nice":false,"zero":false,"padding":0},"axis":null},
  "y":{"datum":1892.4,"type":"quantitative","scale":{"domain":[1738.4,1878.45],"nice":false,"zero":false,"padding":0},"axis":null},
  "text":{"field":"t"}}},
{"data":{"name":"day"},"mark":{"type":"text","color":"#1b2d55","font":"Open Sans","fontWeight":800,"fontSize":37,"align":"center","baseline":"middle"},
 "encoding":{
  "x":{"datum":208.5,"type":"quantitative","scale":{"domain":[0,369.1],"nice":false,"zero":false,"padding":0},"axis":null},
  "y":{"datum":1892.4,"type":"quantitative","scale":{"domain":[1738.4,1878.45],"nice":false,"zero":false,"padding":0},"axis":null},
  "text":{"field":"t"}}},
{"data":{"name":"day"},"mark":{"type":"point","shape":"M-0.9,0.6L0.2,-0.4L-0.1,-0.7L0.9,-0.9L0.7,0.1L0.4,-0.2L-0.6,0.9Z","filled":true,"fill":"#26c4d6","size":500,"opacity":1},
 "encoding":{
  "x":{"datum":231,"type":"quantitative","scale":{"domain":[0,369.1],"nice":false,"zero":false,"padding":0},"axis":null},
  "y":{"datum":1894.4,"type":"quantitative","scale":{"domain":[1738.4,1878.45],"nice":false,"zero":false,"padding":0},"axis":null}}},
{"data":{"name":"day"},"mark":{"type":"point","shape":"M-0.9,0.6L0.2,-0.4L-0.1,-0.7L0.9,-0.9L0.7,0.1L0.4,-0.2L-0.6,0.9Z","filled":true,"fill":"#e23ad4","size":500,"angle":180,"opacity":1},
 "encoding":{
  "x":{"datum":230,"type":"quantitative","scale":{"domain":[0,369.1],"nice":false,"zero":false,"padding":0},"axis":null},
  "y":{"datum":1889.8,"type":"quantitative","scale":{"domain":[1738.4,1878.45],"nice":false,"zero":false,"padding":0},"axis":null}}}
]
}
